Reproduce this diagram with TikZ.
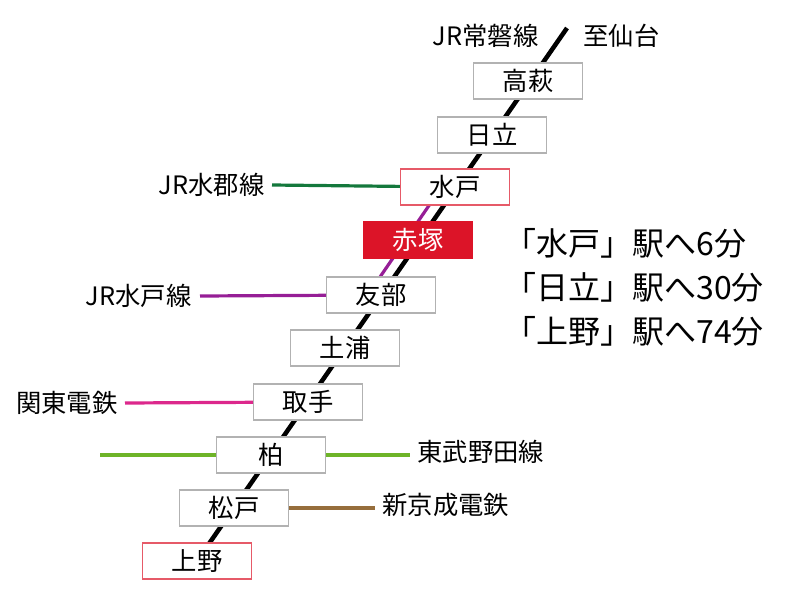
\documentclass[tikz,border=0pt]{standalone}
\usepackage{fontspec}
\setmainfont{Noto Sans CJK JP}
\definecolor{stnred}{RGB}{220,20,40}
\definecolor{suigun}{RGB}{20,120,60}
\definecolor{mitosen}{RGB}{150,30,150}
\definecolor{kanto}{RGB}{220,40,140}
\definecolor{tobu}{RGB}{110,180,40}
\definecolor{shinkei}{RGB}{150,110,60}
\tikzset{
  stn/.style={draw=gray!60, fill=white, line width=1pt, minimum width=82pt, minimum height=27pt, inner sep=0pt, font=\fontsize{19}{19}\selectfont},
  mainstn/.style={stn, draw=stnred!70},
  curstn/.style={stn, draw=stnred, fill=stnred, text=white},
  lbl/.style={font=\fontsize{19}{20}\selectfont, inner sep=1pt},
  info/.style={font=\fontsize{24}{26}\selectfont, anchor=west, inner sep=0pt},
  branch/.style={line width=2.4pt},
}
\begin{document}
\begin{tikzpicture}[x=0.75pt,y=0.75pt,yscale=-1,xscale=1]
  \useasboundingbox (0,0) rectangle (800,600);
  %Station positions
  \coordinate (top) at (567,28);
  \coordinate (takahagi) at (528,81);
  \coordinate (hitachi) at (492,135);
  \coordinate (mito) at (455,187);
  \coordinate (akatsuka) at (418,240);
  \coordinate (tomobe) at (381,295);
  \coordinate (tsuchiura) at (345,348);
  \coordinate (toride) at (308,402);
  \coordinate (kashiwa) at (271,455);
  \coordinate (matsudo) at (234,508);
  \coordinate (ueno) at (197,561);
  %Main line
  \draw [line width=3.4pt] (top) -- (ueno);
  %JR Mito line
  \draw [branch, mitosen] ([xshift=-10]tomobe) -- ([xshift=-10]mito);
  %Free ends of branch lines
  \coordinate (suigunend) at (272,185);
  \coordinate (mitoend) at (200,296);
  \coordinate (kantoend) at (125,403);
  \coordinate (tobuwest) at (100,455);
  \coordinate (tobueast) at (410,455);
  \coordinate (shinkeiend) at (375,508);
  \draw [branch, suigun] (suigunend) -- (mito);
  \draw [branch, mitosen] (mitoend) -- (tomobe);
  \draw [branch, kanto] (kantoend) -- (toride);
  \draw [branch, tobu] (tobuwest) -- (tobueast);
  \draw [branch, shinkei] (matsudo) -- (shinkeiend);
  %Stations
  \node [stn] (n1) at (takahagi) {高萩};
  \node [stn] (n2) at (hitachi) {日立};
  \node [mainstn] (n3) at (mito) {水戸};
  \node [curstn] (n4) at (akatsuka) {赤塚};
  \node [stn] (n5) at (tomobe) {友部};
  \node [stn] (n6) at (tsuchiura) {土浦};
  \node [stn] (n7) at (toride) {取手};
  \node [stn] (n8) at (kashiwa) {柏};
  \node [stn] (n9) at (matsudo) {松戸};
  \node [mainstn] (n10) at (ueno) {上野};
  %Line labels
  \node [lbl, anchor=east] (l1) at (540,36) {JR常磐線};
  \node [lbl, anchor=west] (l2) at (582,36) {至仙台};
  \node [lbl, anchor=east] (l3) at (266,185) {JR水郡線};
  \node [lbl, anchor=east] (l4) at (193,296) {JR水戸線};
  \node [lbl, anchor=east] (l5) at (119,403) {関東電鉄};
  \node [lbl, anchor=west] (l6) at (416,452) {東武野田線};
  \node [lbl, anchor=west] (l7) at (381,505) {新京成電鉄};
  %Travel times
  \node [info] (t1) at (504,243) {「水戸」駅へ6分};
  \node [info] (t2) at (504,287) {「日立」駅へ30分};
  \node [info] (t3) at (504,331) {「上野」駅へ74分};
\end{tikzpicture}
\end{document}
